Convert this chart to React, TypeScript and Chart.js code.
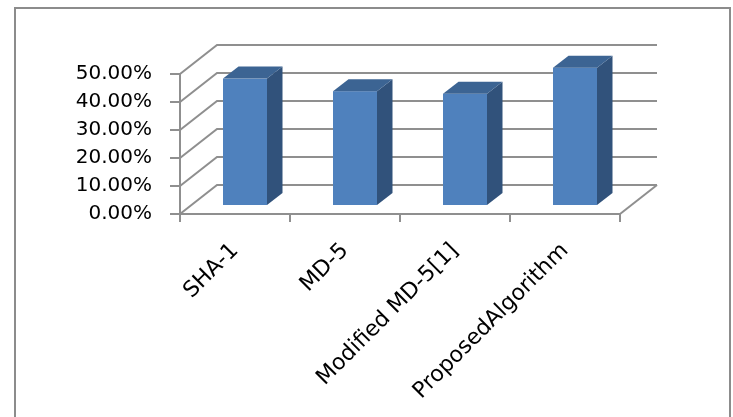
import React, { useEffect, useRef } from "react";
import { Chart, registerables } from "chart.js";

Chart.register(...registerables);

const categories = ["SHA-1", "MD-5", "Modified MD-5[1]", "ProposedAlgorithm"];
const values = [0.455, 0.41, 0.401, 0.494];
const yMin = 0;
const yMax = 0.5;
const yStep = 0.1;

const GRID = "#8f8f8f";
const FRONT = "#4f81bd";
const SIDE = "#31527b";
const TOP = "#3c6493";

// 3D depth offsets (pixels)
const BACK_DX = 37;
const BACK_DY = 29;
const BAR_DX = 10;
const BAR_DY = 8;
const BAR_SX = 15.5;
const BAR_SY = 12;

const threeD = {
  id: "threeD",
  beforeDraw(chart: any) {
    const ctx = chart.ctx;
    ctx.save();
    ctx.fillStyle = "#ffffff";
    ctx.fillRect(0, 0, chart.width, chart.height);
    ctx.strokeStyle = "#8c8c8c";
    ctx.lineWidth = 2;
    ctx.strokeRect(15, 8, 715, 440);
    ctx.restore();
  },
  beforeDatasetsDraw(chart: any) {
    const ctx = chart.ctx;
    const y = chart.scales.y;
    const ca = chart.chartArea;
    ctx.save();
    ctx.strokeStyle = GRID;
    ctx.lineWidth = 2;
    y.ticks.forEach((t: any) => {
      const py = y.getPixelForValue(t.value);
      ctx.beginPath();
      ctx.moveTo(ca.left, py);
      ctx.lineTo(ca.left + BACK_DX, py - BACK_DY);
      ctx.lineTo(ca.right + BACK_DX, py - BACK_DY);
      ctx.stroke();
    });
    const py0 = y.getPixelForValue(0);
    ctx.beginPath();
    ctx.moveTo(ca.right, py0);
    ctx.lineTo(ca.right + BACK_DX, py0 - BACK_DY);
    ctx.stroke();
    ctx.restore();
  },
  afterDatasetsDraw(chart: any) {
    const ctx = chart.ctx;
    const meta = chart.getDatasetMeta(0);
    ctx.save();
    meta.data.forEach((bar: any) => {
      const p = bar.getProps(["x", "y", "base", "width"], true);
      const l = p.x - p.width / 2 + BAR_DX;
      const r = p.x + p.width / 2 + BAR_DX;
      const t = p.y - BAR_DY;
      const b = p.base - BAR_DY;
      ctx.fillStyle = FRONT;
      ctx.fillRect(l, t, r - l, b - t);
      ctx.fillStyle = SIDE;
      ctx.beginPath();
      ctx.moveTo(r, t);
      ctx.lineTo(r + BAR_SX, t - BAR_SY);
      ctx.lineTo(r + BAR_SX, b - BAR_SY);
      ctx.lineTo(r, b);
      ctx.closePath();
      ctx.fill();
      ctx.fillStyle = TOP;
      ctx.beginPath();
      ctx.moveTo(l, t);
      ctx.lineTo(l + BAR_SX, t - BAR_SY);
      ctx.lineTo(r + BAR_SX, t - BAR_SY);
      ctx.lineTo(r, t);
      ctx.closePath();
      ctx.fill();
    });
    ctx.restore();
  },
};

export default function App() {
  const ref = useRef<HTMLCanvasElement | null>(null);
  useEffect(() => {
    if (!ref.current) return;
    const chart = new Chart(ref.current, {
      type: "bar",
      data: {
        labels: categories,
        datasets: [
          {
            data: values,
            backgroundColor: "rgba(0,0,0,0)",
            borderWidth: 0,
            categoryPercentage: 1,
            barPercentage: 0.4,
          },
        ],
      },
      plugins: [threeD],
      options: {
        responsive: false,
        animation: false,
        events: [],
        layout: { padding: { left: 0, top: 74, right: 113, bottom: 0 } },
        plugins: { legend: { display: false }, tooltip: { enabled: false }, title: { display: false } },
        scales: {
          x: {
            afterFit: (s: any) => {
              s.height = 203;
            },
            grid: {
              display: true,
              offset: true,
              drawOnChartArea: false,
              drawTicks: true,
              tickLength: 8,
              color: GRID,
              lineWidth: 2,
            },
            border: { display: true, color: GRID, width: 2 },
            ticks: {
              minRotation: 45,
              maxRotation: 45,
              autoSkip: false,
              padding: 16,
              labelOffset: 0,
              color: "#000",
              font: { family: "DejaVu Sans", size: 22 },
            },
          },
          y: {
            min: yMin,
            max: yMax,
            afterFit: (s: any) => {
              s.width = 180;
            },
            grid: {
              display: true,
              drawOnChartArea: false,
              drawTicks: true,
              tickLength: 10,
              color: GRID,
              lineWidth: 2,
            },
            border: { display: true, color: GRID, width: 2 },
            ticks: {
              stepSize: yStep,
              padding: 18,
              color: "#000",
              font: { family: "DejaVu Sans", size: 20 },
              callback: (v: any) => (Number(v) * 100).toFixed(2) + "%",
            },
          },
        },
      },
    });
    return () => chart.destroy();
  }, []);
  return (
    <div style={{ position: "absolute", left: 0, top: 0, width: 733, height: 417 }}>
      <canvas ref={ref} width={733} height={417} />
    </div>
  );
}
